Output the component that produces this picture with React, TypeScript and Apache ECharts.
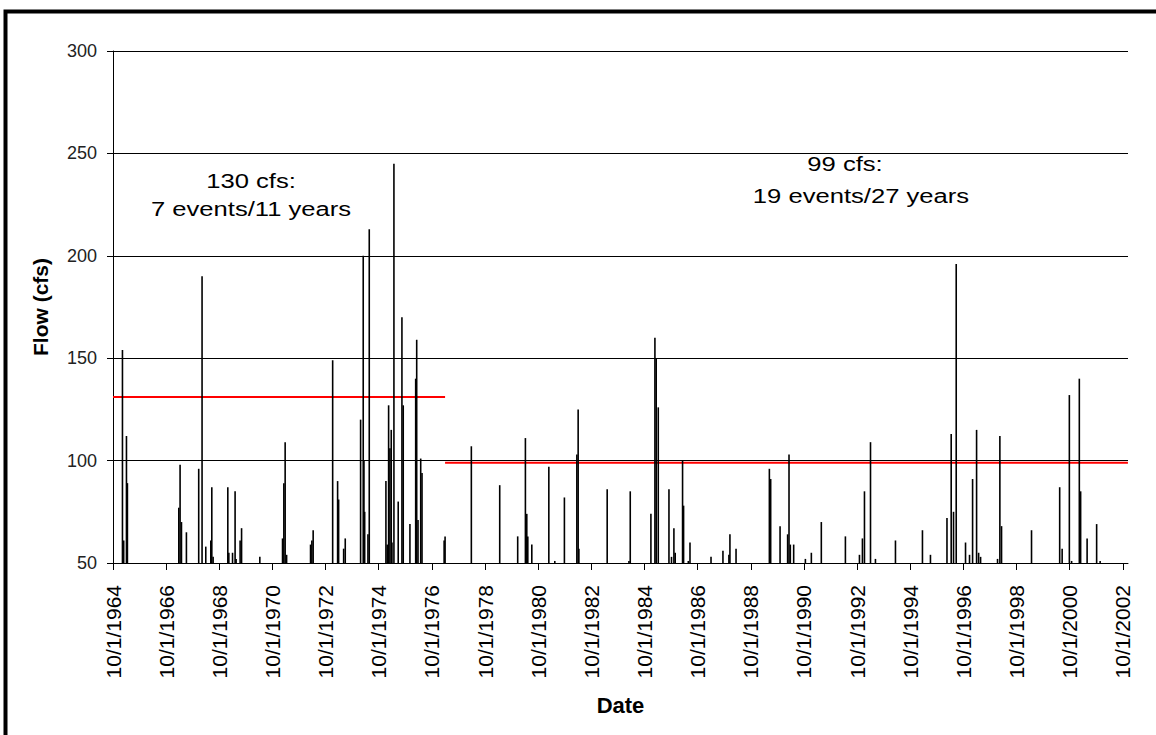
import React, { useEffect, useRef } from "react";
import * as echarts from "echarts";

// Daily flow peaks (cfs) above the 50 cfs floor of the plot
const peakDates = [
  "1965-02-08", "1965-02-25", "1965-04-04", "1965-04-17",
  "1967-03-24", "1967-04-11", "1967-04-30", "1967-07-07", "1967-12-23",
  "1968-02-07", "1968-03-29", "1968-06-06", "1968-06-20", "1968-07-08",
  "1969-01-26", "1969-02-09", "1969-04-01", "1969-05-06", "1969-05-20", "1969-07-14", "1969-08-03",
  "1970-04-11",
  "1971-02-17", "1971-03-07", "1971-03-25", "1971-04-14",
  "1972-03-08", "1972-03-26", "1972-04-13",
  "1973-01-06", "1973-03-15", "1973-03-29", "1973-06-06", "1973-06-28",
  "1974-01-25", "1974-03-02", "1974-03-12", "1974-03-22", "1974-05-06", "1974-05-24",
  "1975-01-08", "1975-01-26", "1975-02-14", "1975-03-04", "1975-03-22", "1975-04-01", "1975-04-28",
  "1975-06-26", "1975-08-16", "1975-09-03", "1975-12-04",
  "1976-02-21", "1976-03-06", "1976-03-24", "1976-04-30", "1976-05-18",
  "1977-03-18", "1977-03-31",
  "1978-03-27",
  "1979-04-21", "1979-12-24",
  "1980-04-08", "1980-04-27", "1980-05-11", "1980-07-05",
  "1981-02-24", "1981-05-17", "1981-09-26",
  "1982-03-16", "1982-04-03", "1982-04-13",
  "1983-05-07",
  "1984-03-01", "1984-03-19", "1984-12-28",
  "1985-02-21", "1985-03-11", "1985-04-08", "1985-09-02", "1985-10-07", "1985-11-09", "1985-11-27",
  "1986-03-08", "1986-03-22", "1986-05-26", "1986-06-18",
  "1987-04-03", "1987-09-14", "1987-12-05", "1987-12-19",
  "1988-03-12",
  "1989-06-13", "1989-07-01", "1989-11-07",
  "1990-02-19", "1990-03-10", "1990-03-28", "1990-05-13", "1990-10-21",
  "1991-01-11", "1991-05-28",
  "1992-04-23", "1992-11-02", "1992-12-13",
  "1993-01-10", "1993-04-03", "1993-06-10",
  "1994-03-12",
  "1995-03-18", "1995-07-06",
  "1996-02-18", "1996-04-16", "1996-05-18", "1996-06-24", "1996-10-30", "1996-12-24",
  "1997-02-04", "1997-03-31", "1997-04-28", "1997-05-25",
  "1998-01-13", "1998-02-14", "1998-03-09",
  "1999-04-25",
  "2000-05-16", "2000-06-19", "2000-09-26", "2000-10-27",
  "2001-02-10", "2001-02-28", "2001-05-28", "2001-10-06", "2001-11-23",
];

const peakFlows = [
  154, 61, 112, 89,
  77, 98, 70, 65, 96,
  190, 58, 61, 87, 53,
  87, 55, 55, 85, 52, 61, 67,
  53,
  62, 89, 109, 54,
  59, 61, 66,
  149, 90, 81, 57, 62,
  120, 200, 100, 75, 64, 213,
  90, 59, 127, 106, 115, 60, 245,
  80, 170, 127, 69,
  140, 159, 71, 101, 94,
  61, 63,
  107,
  88, 63,
  111, 74, 63, 59,
  97, 51, 82,
  103, 125, 57,
  86,
  51, 85, 74,
  160, 150, 126, 86, 53, 67, 55,
  100, 78, 51, 60,
  53, 56, 54, 64,
  57,
  96, 91, 68,
  64, 103, 59, 59, 52,
  55, 70,
  63, 54, 62,
  85, 109, 52,
  61,
  66, 54,
  72, 113, 75, 196, 60, 54,
  91, 115, 55, 53,
  52, 112, 68,
  66,
  87, 57, 132, 51,
  140, 85, 62, 69, 51,
];

// Threshold lines (cfs) and the periods they cover
const thresholdHighDates = ["1964-10-01", "1977-03-31"];
const thresholdHighFlow = 131;
const thresholdLowDates = ["1977-03-31", "2002-12-10"];
const thresholdLowFlow = 99;

// Axes
const xStartDate = "1964-10-01";
const xEndDate = "2002-12-11";
const xTickDates = [
  "1964-10-01", "1966-10-01", "1968-10-01", "1970-10-01", "1972-10-01",
  "1974-10-01", "1976-10-01", "1978-10-01", "1980-10-01", "1982-10-01",
  "1984-10-01", "1986-10-01", "1988-10-01", "1990-10-01", "1992-10-01",
  "1994-10-01", "1996-10-01", "1998-10-01", "2000-10-01", "2002-10-01",
];
const yMin = 50;
const yMax = 300;
const yStep = 50;

const annotationLeft = ["130 cfs:", "7 events/11 years"];
const annotationRight = ["99 cfs:", "19 events/27 years"];

const ts = (d: string) => {
  const [y, m, dd] = d.split("-").map(Number);
  return Date.UTC(y, m - 1, dd);
};
const fmtDate = (v: number) => {
  const d = new Date(v);
  return `${d.getUTCMonth() + 1}/${d.getUTCDate()}/${d.getUTCFullYear()}`;
};

const FONT = "'Liberation Sans', Arial, Helvetica, sans-serif";

export default function App() {
  const ref = useRef<HTMLDivElement>(null);

  useEffect(() => {
    document.body.style.margin = "0";
    if (!ref.current) return;
    const chart = echarts.init(ref.current, undefined, { renderer: "svg" });

    const tickValues = xTickDates.map(ts);

    const annText = (text: string, x: number, y: number) => ({
      type: "text",
      x,
      y,
      scaleX: 1.22,
      z: 100,
      style: {
        text,
        fontFamily: FONT,
        fontSize: 21,
        fill: "#000",
        textAlign: "center",
        textVerticalAlign: "middle",
      },
    });

    chart.setOption({
      animation: false,
      backgroundColor: "#fff",
      grid: { left: 113, top: 51, right: 28, bottom: 172, containLabel: false },
      xAxis: {
        type: "value",
        min: ts(xStartDate),
        max: ts(xEndDate),
        name: "Date",
        nameLocation: "middle",
        nameGap: 131,
        nameTextStyle: { fontFamily: FONT, fontSize: 22, fontWeight: "bold", color: "#000" },
        axisLine: { show: true, onZero: false, lineStyle: { color: "#000", width: 1 } },
        axisTick: { show: true, customValues: tickValues, length: 7, lineStyle: { color: "#000" } },
        axisLabel: {
          customValues: tickValues,
          rotate: 90,
          margin: 22,
          fontFamily: FONT,
          fontSize: 21,
          color: "#000",
          formatter: (v: number) => fmtDate(v),
        },
        splitLine: { show: false },
      },
      yAxis: {
        type: "value",
        min: yMin,
        max: yMax,
        interval: yStep,
        name: "Flow (cfs)",
        nameLocation: "middle",
        nameGap: 62,
        nameTextStyle: { fontFamily: FONT, fontSize: 21, fontWeight: "bold", color: "#000" },
        axisLine: { show: true, onZero: false, lineStyle: { color: "#000", width: 1 } },
        axisTick: { show: true, length: 6, lineStyle: { color: "#000" } },
        axisLabel: { margin: 16, fontFamily: FONT, fontSize: 18, color: "#222" },
        splitLine: { show: true, lineStyle: { color: "#000", width: 1 } },
      },
      series: [
        {
          name: "threshold-130",
          type: "line",
          data: thresholdHighDates.map((d) => [ts(d), thresholdHighFlow]),
          symbol: "none",
          lineStyle: { color: "#ff0000", width: 2 },
          z: 2,
          silent: true,
        },
        {
          name: "threshold-99",
          type: "line",
          data: thresholdLowDates.map((d) => [ts(d), thresholdLowFlow]),
          symbol: "none",
          lineStyle: { color: "#ff0000", width: 2 },
          z: 2,
          silent: true,
        },
        {
          name: "flow",
          type: "bar",
          data: peakDates.map((d, i) => [ts(d), peakFlows[i]]),
          barWidth: 1.6,
          itemStyle: { color: "#000" },
          z: 3,
          silent: true,
        },
      ],
      graphic: [
        {
          type: "rect",
          silent: true,
          shape: { x: 5.5, y: 11.5, width: 1300, height: 900 },
          style: { fill: "none", stroke: "#000", lineWidth: 4 },
          z: 100,
        },
        annText(annotationLeft[0], 251, 181),
        annText(annotationLeft[1], 251, 209),
        annText(annotationRight[0], 845, 164),
        annText(annotationRight[1], 861, 196),
      ],
    });

    return () => chart.dispose();
  }, []);

  return (
    <div
      ref={ref}
      style={{ position: "fixed", left: 0, top: 0, width: 1156, height: 735, background: "#fff" }}
    />
  );
}
